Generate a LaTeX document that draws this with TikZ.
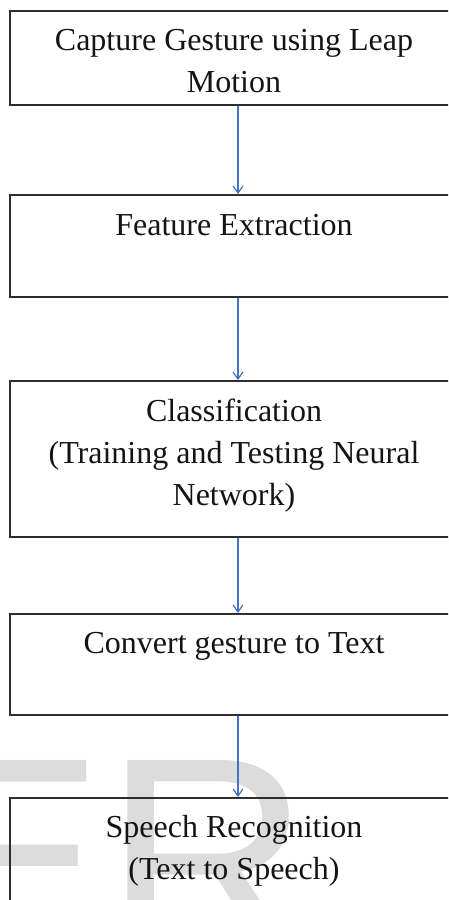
\documentclass[tikz,border=0pt]{standalone}
\usepackage{fontspec}
\setmainfont{Liberation Serif}
\newfontfamily\wmfont{Liberation Sans}
\usetikzlibrary{arrows.meta}
\definecolor{boxline}{HTML}{2E2E2E}
\definecolor{arrowblue}{HTML}{4472C4}
\definecolor{wmgray}{HTML}{DCDCDC}
\begin{document}
\begin{tikzpicture}[x=1pt,y=-1pt,
  stepbox/.style={draw=boxline, line width=1.8pt, minimum width=456pt, inner sep=0pt, anchor=north},
  lbl/.style={font=\fontsize{32}{42}\selectfont, align=center, inner sep=0pt, anchor=north, text=black!92},
  flow/.style={draw=arrowblue, line width=1.2pt, -{Straight Barb[length=7pt,width=10pt]}},
  wm/.style={font=\wmfont\fontsize{285}{285}\selectfont, text=wmgray, inner sep=0pt, anchor=base west}]
\useasboundingbox (0,0) rectangle (448,900);
\begin{scope}
\clip (0,0) rectangle (448,900);
\node[wm] (wm) at (-86,956) {ER};
% boxes
\node[stepbox, minimum height=94pt]  (b1) at (238,10) {};
\node[stepbox, minimum height=102pt] (b2) at (238,194) {};
\node[stepbox, minimum height=156pt] (b3) at (238,380) {};
\node[stepbox, minimum height=101pt] (b4) at (238,613) {};
\node[stepbox, minimum height=130pt] (b5) at (238,797) {};
% texts
\node[lbl] (t1) at (234,20.6) {\strut Capture Gesture using Leap\\\strut Motion};
\node[lbl] (t2) at (234,205.6) {\strut Feature Extraction};
\node[lbl] (t3) at (234,391.6) {\strut Classification\\\strut (Training and Testing Neural\\\strut Network)};
\node[lbl] (t4) at (234,623.6) {\strut Convert gesture to Text};
\node[lbl] (t5) at (234,807.6) {\strut Speech Recognition\\\strut (Text to Speech)};
% connectors
\draw[flow] (b1.south) -- (b2.north);
\draw[flow] (b2.south) -- (b3.north);
\draw[flow] (b3.south) -- (b4.north);
\draw[flow] (b4.south) -- (b5.north);
\end{scope}
\end{tikzpicture}
\end{document}
